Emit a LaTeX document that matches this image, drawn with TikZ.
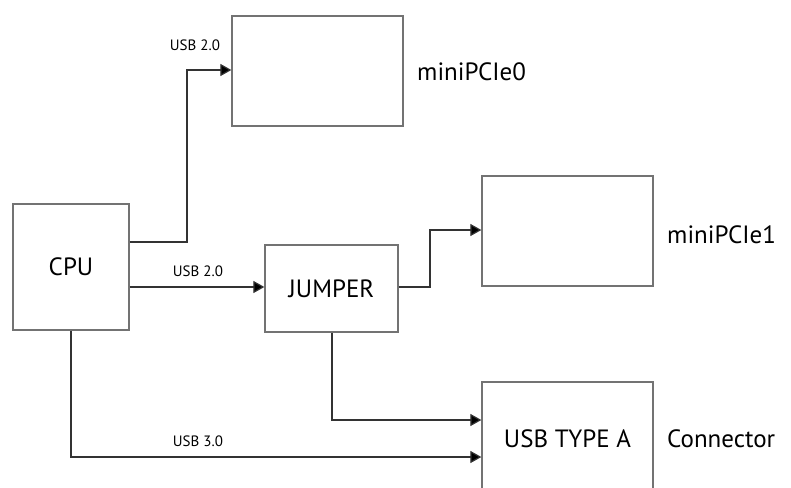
\documentclass[tikz,border=0pt]{standalone}
\usepackage{fontspec}
\setmainfont{PT Sans}
\usetikzlibrary{arrows.meta}
\begin{document}
\begin{tikzpicture}[x=1pt,y=-1pt,
  blk/.style={draw=black!55,line width=1.3pt,inner sep=0pt,font=\fontsize{25}{28}\selectfont},
  lbl/.style={inner sep=0pt,font=\fontsize{25}{28}\selectfont,anchor=west},
  sml/.style={inner sep=0pt,font=\fontsize{15}{17}\selectfont},
  wire/.style={draw=black!80,line width=1.2pt},
  arr/.style={wire,-{Triangle[length=11pt,width=12pt,fill=black]}}]
\useasboundingbox (0,0) rectangle (791,487);
\clip (0,0) rectangle (791,487);
\node[blk,minimum width=116pt,minimum height=126pt] (cpu) at (71,267) {CPU};
\node[blk,minimum width=171pt,minimum height=110pt] (pci0) at (317.5,71) {};
\node[blk,minimum width=133pt,minimum height=87pt] (jmp) at (331.5,288.5) {JUMPER};
\node[blk,minimum width=171pt,minimum height=110pt] (pci1) at (567.5,231) {};
\node[blk,minimum width=171pt,minimum height=114pt] (usba) at (567.5,439) {USB TYPE A};
\node[lbl] (l0) at (417,72) {miniPCIe0};
\node[lbl] (l1) at (667,235) {miniPCIe1};
\node[lbl] (l2) at (667,439) {Connector};
\coordinate (c0) at (cpu.east |- 0,242);
\coordinate (c1) at (187,242);
\coordinate (c2) at (187,70);
\draw[arr] (c0) -- (c1) -- (c2) -- (c2 -| pci0.west);
\node[sml] (t0) at (195,45) {USB 2.0};
\coordinate (m0) at (cpu.east |- 0,287);
\draw[arr] (m0) -- (m0 -| jmp.west);
\node[sml] (t1) at (198,271) {USB 2.0};
\coordinate (j1) at (430,287);
\coordinate (j2) at (430,230);
\draw[arr] (jmp.east |- j1) -- (j1) -- (j2) -- (j2 -| pci1.west);
\coordinate (j3) at (332,420);
\draw[arr] (jmp.south -| j3) -- (j3) -- (j3 -| usba.west);
\coordinate (c3) at (71,457);
\draw[arr] (cpu.south -| c3) -- (c3) -- (c3 -| usba.west);
\node[sml] (t2) at (198,441) {USB 3.0};
\end{tikzpicture}
\end{document}
